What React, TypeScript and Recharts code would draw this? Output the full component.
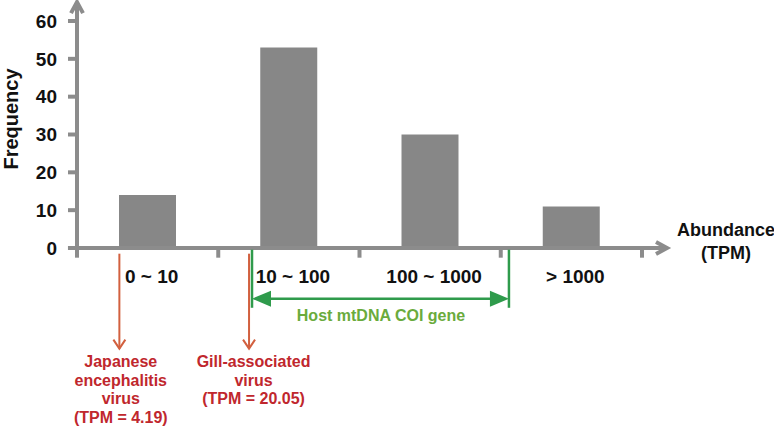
import React from "react";
import { BarChart, Bar, XAxis, YAxis, ReferenceLine, ReferenceDot } from "recharts";

const categories = ["0 ~ 10", "10 ~ 100", "100 ~ 1000", "> 1000"];
const frequencies = [14, 53, 30, 11];
const yTicks = [0, 10, 20, 30, 40, 50, 60];
const binEdges = [1, 2, 3, 4];

// annotation anchors: x in bin units (0..4), y in frequency units
const virusLabels = [
  ["Japanese", "encephalitis", "virus", "(TPM = 4.19)"],
  ["Gill-associated", "virus", "(TPM = 20.05)"],
];
const virusArrowX = [0.3, 1.218];
const virusLabelX = [0.31, 1.25];
const hostSpan = [1.239, 3.058];
const hostLabel = "Host mtDNA COI gene";
const xTitle = ["Abundance", "(TPM)"];
const yTitle = "Frequency";

// bin centre gives the hidden linear axis something to hold on to
const data = categories.map((range, i) => ({ range, freq: frequencies[i], bin: i + 0.5 }));

const FONT = "'Liberation Sans', Arial, Helvetica, sans-serif";
const AXIS = "#8c8c8c";
const BAR = "#878787";
const RED_LINE = "#d2603f";
const RED_TEXT = "#c0272d";
const GREEN = "#2f9b4c";
const LIGHT_GREEN = "#6aab3c";

function headPoints(x1: number, y1: number, x2: number, y2: number, len: number, half: number) {
  const d = Math.hypot(x2 - x1, y2 - y1) || 1;
  const ux = (x2 - x1) / d;
  const uy = (y2 - y1) / d;
  const bx = x2 - ux * len;
  const by = y2 - uy * len;
  return `${bx - uy * half},${by + ux * half} ${x2},${y2} ${bx + uy * half},${by - ux * half}`;
}

const openArrow = (color: string, width: number, len: number, half: number) => (p: any) => (
  <g>
    <line x1={p.x1} y1={p.y1} x2={p.x2} y2={p.y2} stroke={color} strokeWidth={width} />
    <polyline
      points={headPoints(p.x1, p.y1, p.x2, p.y2, len, half)}
      fill="none"
      stroke={color}
      strokeWidth={width}
    />
  </g>
);

const plainLine = (color: string, width: number) => (p: any) => (
  <line x1={p.x1} y1={p.y1} x2={p.x2} y2={p.y2} stroke={color} strokeWidth={width} />
);

const doubleArrow = (p: any) => (
  <g>
    <line x1={p.x1 + 10} y1={p.y1} x2={p.x2 - 10} y2={p.y2} stroke={GREEN} strokeWidth={2.5} />
    <polygon points={headPoints(p.x2, p.y2, p.x1, p.y1, 19, 8)} fill={GREEN} />
    <polygon points={headPoints(p.x1, p.y1, p.x2, p.y2, 19, 8)} fill={GREEN} />
  </g>
);

const textBlock = (lines: string[], color: string, size: number, step: number) => (p: any) => (
  <text x={p.cx} y={p.cy} textAnchor="middle" fill={color} fontSize={size} fontWeight="bold" fontFamily={FONT}>
    {lines.map((l, i) => (
      <tspan key={i} x={p.cx} dy={i === 0 ? "0.35em" : step}>
        {l}
      </tspan>
    ))}
  </text>
);

const rotatedText = (label: string) => (p: any) => (
  <text
    x={p.cx}
    y={p.cy}
    transform={`rotate(-90 ${p.cx} ${p.cy})`}
    textAnchor="middle"
    dy="0.35em"
    fill="#111"
    fontSize={20}
    fontWeight="bold"
    fontFamily={FONT}
  >
    {label}
  </text>
);

export default function App() {
  return (
    <div style={{ width: 774, height: 427 }}>
      <style>{"body{margin:0}"}</style>
      <BarChart
        width={774}
        height={427}
        data={data}
        margin={{ top: 21, right: 132, bottom: 143, left: 0 }}
        style={{ fontFamily: FONT }}
      >
        <XAxis
          dataKey="range"
          axisLine={false}
          tickLine={false}
          tickSize={0}
          tickMargin={22}
          interval={0}
          height={36}
          tick={{ fill: "#111", fontSize: 19, fontWeight: "bold", dx: 4 }}
        />
        <XAxis
          xAxisId="pos"
          dataKey="bin"
          type="number"
          domain={[0, 4]}
          padding={{ left: 0, right: 0 }}
          hide
          allowDataOverflow
        />
        <YAxis
          domain={[0, 60]}
          ticks={yTicks}
          interval={0}
          width={77}
          axisLine={false}
          tickLine={{ stroke: AXIS, strokeWidth: 4 }}
          tickSize={9}
          tickMargin={11}
          tick={{ fill: "#111", fontSize: 19, fontWeight: "bold" }}
        />
        <Bar dataKey="freq" fill={BAR} barSize={57} isAnimationActive={false} />

        {/* axis lines with arrow heads */}
        <ReferenceLine
          xAxisId="pos"
          ifOverflow="visible"
          segment={[{ x: 0, y: -2.56 }, { x: 0, y: 65 }]}
          shape={openArrow(AXIS, 4, 11, 6)}
        />
        <ReferenceLine
          xAxisId="pos"
          ifOverflow="visible"
          segment={[{ x: -0.064, y: 0 }, { x: 4.177, y: 0 }]}
          shape={openArrow(AXIS, 4, 11, 6)}
        />
        {binEdges.map((b) => (
          <ReferenceLine
            key={b}
            xAxisId="pos"
            ifOverflow="visible"
            segment={[{ x: b, y: 0 }, { x: b, y: -2.56 }]}
            shape={plainLine(AXIS, 4)}
          />
        ))}

        {/* virus markers */}
        {virusArrowX.map((x, i) => (
          <ReferenceLine
            key={`va${i}`}
            xAxisId="pos"
            ifOverflow="visible"
            segment={[{ x, y: -1.5 }, { x, y: -26.6 }]}
            shape={openArrow(RED_LINE, 2, 9, 6)}
          />
        ))}
        {virusLabels.map((lines, i) => (
          <ReferenceDot
            key={`vl${i}`}
            xAxisId="pos"
            x={virusLabelX[i]}
            y={-30}
            ifOverflow="visible"
            shape={textBlock(lines, RED_TEXT, 16, 18.5)}
          />
        ))}

        {/* host gene range */}
        {hostSpan.map((x, i) => (
          <ReferenceLine
            key={`hs${i}`}
            xAxisId="pos"
            ifOverflow="visible"
            segment={[{ x, y: -0.45 }, { x, y: -15.8 }]}
            shape={plainLine(GREEN, 2.5)}
          />
        ))}
        <ReferenceLine
          xAxisId="pos"
          ifOverflow="visible"
          segment={[{ x: hostSpan[0], y: -13.4 }, { x: hostSpan[1], y: -13.4 }]}
          shape={doubleArrow}
        />
        <ReferenceDot
          xAxisId="pos"
          x={2.152}
          y={-17.9}
          ifOverflow="visible"
          shape={textBlock([hostLabel], LIGHT_GREEN, 16, 0)}
        />

        {/* axis titles */}
        <ReferenceDot
          xAxisId="pos"
          x={4.595}
          y={4.83}
          ifOverflow="visible"
          shape={textBlock(xTitle, "#111", 18, 23)}
        />
        <ReferenceDot
          xAxisId="pos"
          x={-0.468}
          y={34.1}
          ifOverflow="visible"
          shape={rotatedText(yTitle)}
        />
      </BarChart>
    </div>
  );
}
